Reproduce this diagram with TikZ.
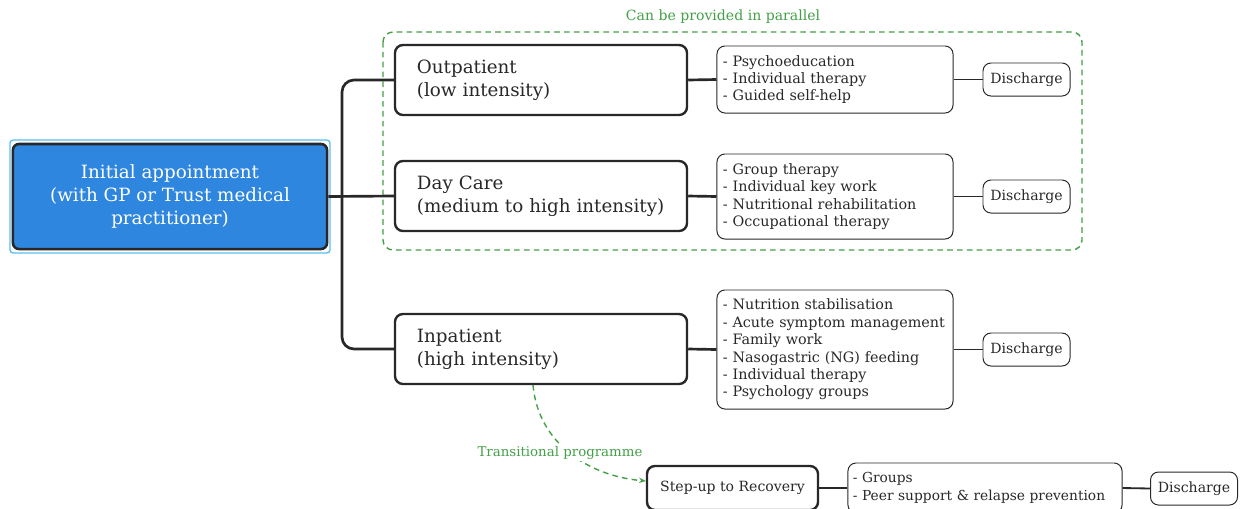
\documentclass[tikz,border=0pt]{standalone}
\usepackage{fontspec}
\setmainfont{DejaVu Serif}
\usetikzlibrary{arrows.meta}

\definecolor{grn}{RGB}{67,160,71}
\definecolor{initblue}{RGB}{46,134,222}
\definecolor{selblue}{RGB}{90,190,240}
\definecolor{ink}{RGB}{40,40,40}

\begin{document}
\begin{tikzpicture}
  [x=0.025cm,y=-0.025cm,
   mainbox/.style={draw=ink,rounded corners=0.2cm,line width=1.7pt,text=ink,font=\fontsize{13}{16.5}\selectfont,
     minimum width=7.3cm,minimum height=1.75cm,inner xsep=0.55cm,text width=6.2cm,align=left},
   listbox/.style={draw=ink,rounded corners=0.2cm,line width=0.7pt,text=ink,font=\fontsize{10.2}{12.4}\selectfont,
     inner xsep=0.15cm,align=left},
   dischbox/.style={draw=ink,rounded corners=0.2cm,line width=0.7pt,text=ink,font=\fontsize{10}{12}\selectfont,
     minimum width=2.175cm,minimum height=0.825cm,inner sep=0pt},
   link/.style={ink,line width=1.9pt},
   thinlink/.style={ink,line width=1.3pt},
   trans/.style={grn,line width=1pt,dash pattern=on 4pt off 3pt,-{Stealth[length=5pt]}}]
  \useasboundingbox (0,0) rectangle (1240,508);

  % initial appointment
  \draw[selblue,line width=1pt,rounded corners=0.08cm] (10,140) rectangle (330,253);
  \node[draw=ink,line width=1.8pt,fill=initblue,rounded corners=0.15cm,text=white,
    font=\fontsize{13}{16.5}\selectfont,align=center,minimum width=7.85cm,minimum height=2.625cm]
    (init) at (170,196.5) {Initial appointment\\(with GP or Trust medical\\practitioner)};

  % parallel frame
  \draw[grn,line width=1pt,dash pattern=on 4pt off 3pt,rounded corners=0.25cm] (383,32) rectangle (1082,250);
  \node[text=grn,font=\fontsize{10}{12}\selectfont] (par) at (723,17) {Can be provided in parallel};

  % care levels
  \node[mainbox] (out) at (541,80) {Outpatient\\(low intensity)};
  \node[mainbox] (day) at (541,196) {Day Care\\(medium to high intensity)};
  \node[mainbox] (inp) at (541,349) {Inpatient\\(high intensity)};

  % lists
  \node[listbox,minimum width=5.9cm,minimum height=1.675cm,text width=5.6cm] (outlist) at (835,79.5)
    {- Psychoeducation\\- Individual therapy\\- Guided self-help};
  \node[listbox,minimum width=5.9cm,minimum height=2.125cm,text width=5.6cm] (daylist) at (835,196.5)
    {- Group therapy\\- Individual key work\\- Nutritional rehabilitation\\- Occupational therapy};
  \node[listbox,minimum width=5.9cm,minimum height=2.975cm,text width=5.6cm] (inplist) at (835,349.5)
    {- Nutrition stabilisation\\- Acute symptom management\\- Family work\\- Nasogastric (NG) feeding\\- Individual therapy\\- Psychology groups};

  % discharges
  \node[dischbox] (outdis) at (1026.5,79.5) {Discharge};
  \node[dischbox] (daydis) at (1026.5,196.5) {Discharge};
  \node[dischbox] (inpdis) at (1026.5,349.5) {Discharge};

  % step-up row
  \node[draw=ink,rounded corners=0.2cm,line width=1.7pt,text=ink,font=\fontsize{10}{12}\selectfont,
    minimum width=4.275cm,minimum height=1.1cm] (step) at (732.5,488) {Step-up to Recovery};
  \node[listbox,font=\fontsize{9.8}{12.4}\selectfont,inner xsep=0.12cm,minimum width=6.85cm,minimum height=1.25cm,text width=6.61cm]
    (steplist) at (985,488) {- Groups\\- Peer support \& relapse prevention};
  \node[dischbox] (stepdis) at (1194,488.5) {Discharge};

  % connectors
  \coordinate (trunk) at (342,196);
  \draw[link] (init.east) -- (day.west);
  \draw[link,rounded corners=0.3cm] (out.west) -| (trunk) |- (inp.west);
  \draw[link] (out.east) -- (outlist.west);
  \draw[link] (day.east) -- (daylist.west);
  \draw[link] (inp.east) -- (inplist.west);
  \draw[link] (step.east) -- (steplist.west);
  \draw[thinlink] (outlist.east) -- (outdis.west);
  \draw[thinlink] (daylist.east) -- (daydis.west);
  \draw[thinlink] (inplist.east) -- (inpdis.west);
  \draw[thinlink] (steplist.east) -- (stepdis.west);

  % transitional programme
  \coordinate (tstart) at (533,385);
  \coordinate (tend) at (646,481);
  \draw[trans] (tstart) to[out=-85,in=175] (tend);
  \node[text=grn,fill=white,inner sep=1pt,font=\fontsize{9.5}{11}\selectfont] (translbl) at (560,453) {Transitional programme};
\end{tikzpicture}
\end{document}
